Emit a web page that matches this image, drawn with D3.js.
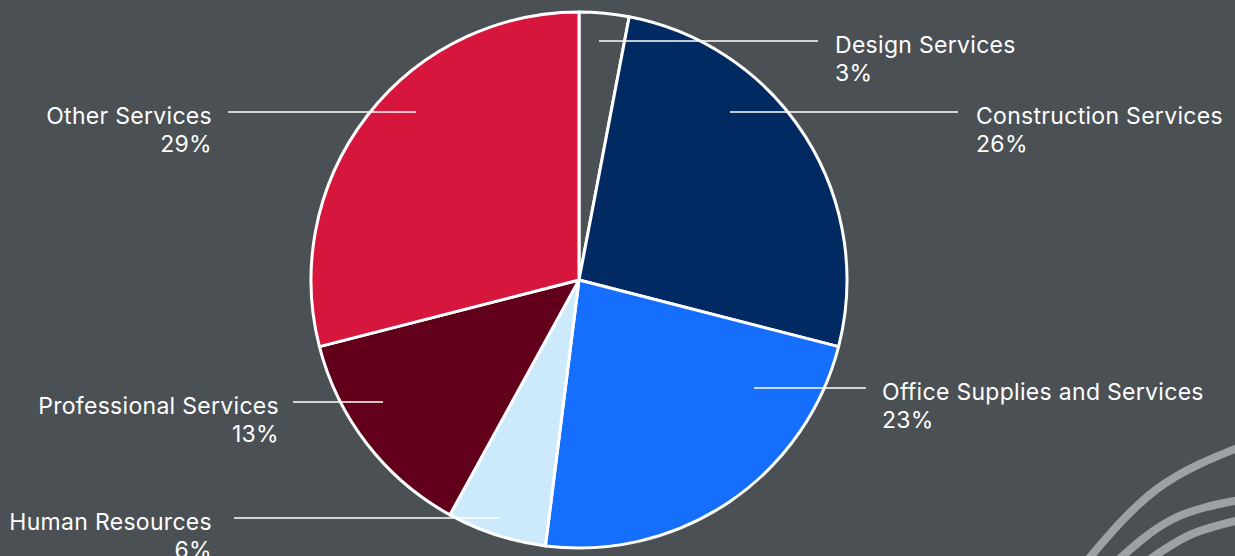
<!DOCTYPE html>
<html>
<head>
<meta charset="utf-8">
<script src="https://cdn.jsdelivr.net/npm/d3@7"></script>
<style>
  html, body { margin: 0; padding: 0; background: #4a5054; }
  svg { display: block; }
</style>
</head>
<body>
<div id="chart"></div>
<script>
// slice data, clockwise from 12 o'clock
const categories = ["Design Services", "Construction Services", "Office Supplies and Services",
                    "Human Resources", "Professional Services", "Other Services"];
const shares = [3, 26, 23, 6, 13, 29];
const pctLabels = ["3%", "26%", "23%", "6%", "13%", "29%"];
const sliceColors = ["#4a5054", "#012a63", "#166efd", "#cdeafc", "#62001c", "#d6163d"];

const width = 1235, height = 556;
const cx = 579, cy = 280, radius = 268;
const bg = "#4a5054";

// label layout: leader start (relative to centre), leader end x, gap to text, side
const labelLayout = [
  {dx: 20,   dy: -239, x2: 818, gap: 17, side: "right"},
  {dx: 151,  dy: -168, x2: 958, gap: 18, side: "right"},
  {dx: 175,  dy: 108,  x2: 866, gap: 16, side: "right"},
  {dx: -79,  dy: 238,  x2: 234, gap: 22, side: "left"},
  {dx: -196, dy: 122,  x2: 293, gap: 14, side: "left"},
  {dx: -163, dy: -168, x2: 228, gap: 16, side: "left"}
];

const svg = d3.select("#chart")
  .append("svg")
  .attr("width", width)
  .attr("height", height)
  .style("background-color", bg);

// decorative arcs, bottom right corner
const decoArcs = [
  [[1086, 562], [1157, 489], [1240, 447]],
  [[1116, 562], [1173, 519], [1240, 500]],
  [[1146, 562], [1190, 535], [1240, 520]]
];
const deco = d3.line().curve(d3.curveNatural);
svg.append("g")
  .selectAll("path")
  .data(decoArcs)
  .join("path")
  .attr("d", d => deco(d))
  .attr("fill", "none")
  .attr("stroke", "#9ca1a4")
  .attr("stroke-width", 8);

const pie = d3.pie().sort(null).value(d => d);
const arc = d3.arc().innerRadius(0).outerRadius(radius);

const g = svg.append("g")
  .attr("transform", `translate(${cx}, ${cy})`);

g.selectAll("path")
  .data(pie(shares))
  .join("path")
  .attr("d", arc)
  .attr("fill", (d, i) => sliceColors[i])
  .attr("stroke", "#ffffff")
  .attr("stroke-width", 3)
  .attr("stroke-linejoin", "round");

// leader lines and labels
const labels = svg.append("g")
  .style("font-family", "Inter, 'Noto Sans', sans-serif")
  .style("font-size", "23px")
  .style("letter-spacing", "0.3px")
  .attr("fill", "#ffffff");

categories.forEach((name, i) => {
  const l = labelLayout[i];
  const y = cy + l.dy;
  labels.append("line")
    .attr("x1", cx + l.dx)
    .attr("x2", l.x2)
    .attr("y1", y)
    .attr("y2", y)
    .attr("stroke", "#ffffff")
    .attr("stroke-width", 1.5);

  const tx = l.side === "right" ? l.x2 + l.gap : l.x2 - l.gap;
  const anchor = l.side === "right" ? "start" : "end";
  const t = labels.append("text")
    .attr("x", tx)
    .attr("y", y + 12)
    .attr("text-anchor", anchor);
  t.append("tspan").attr("x", tx).text(name);
  t.append("tspan").attr("x", tx).attr("dy", 28).text(pctLabels[i]);
});
</script>
</body>
</html>
